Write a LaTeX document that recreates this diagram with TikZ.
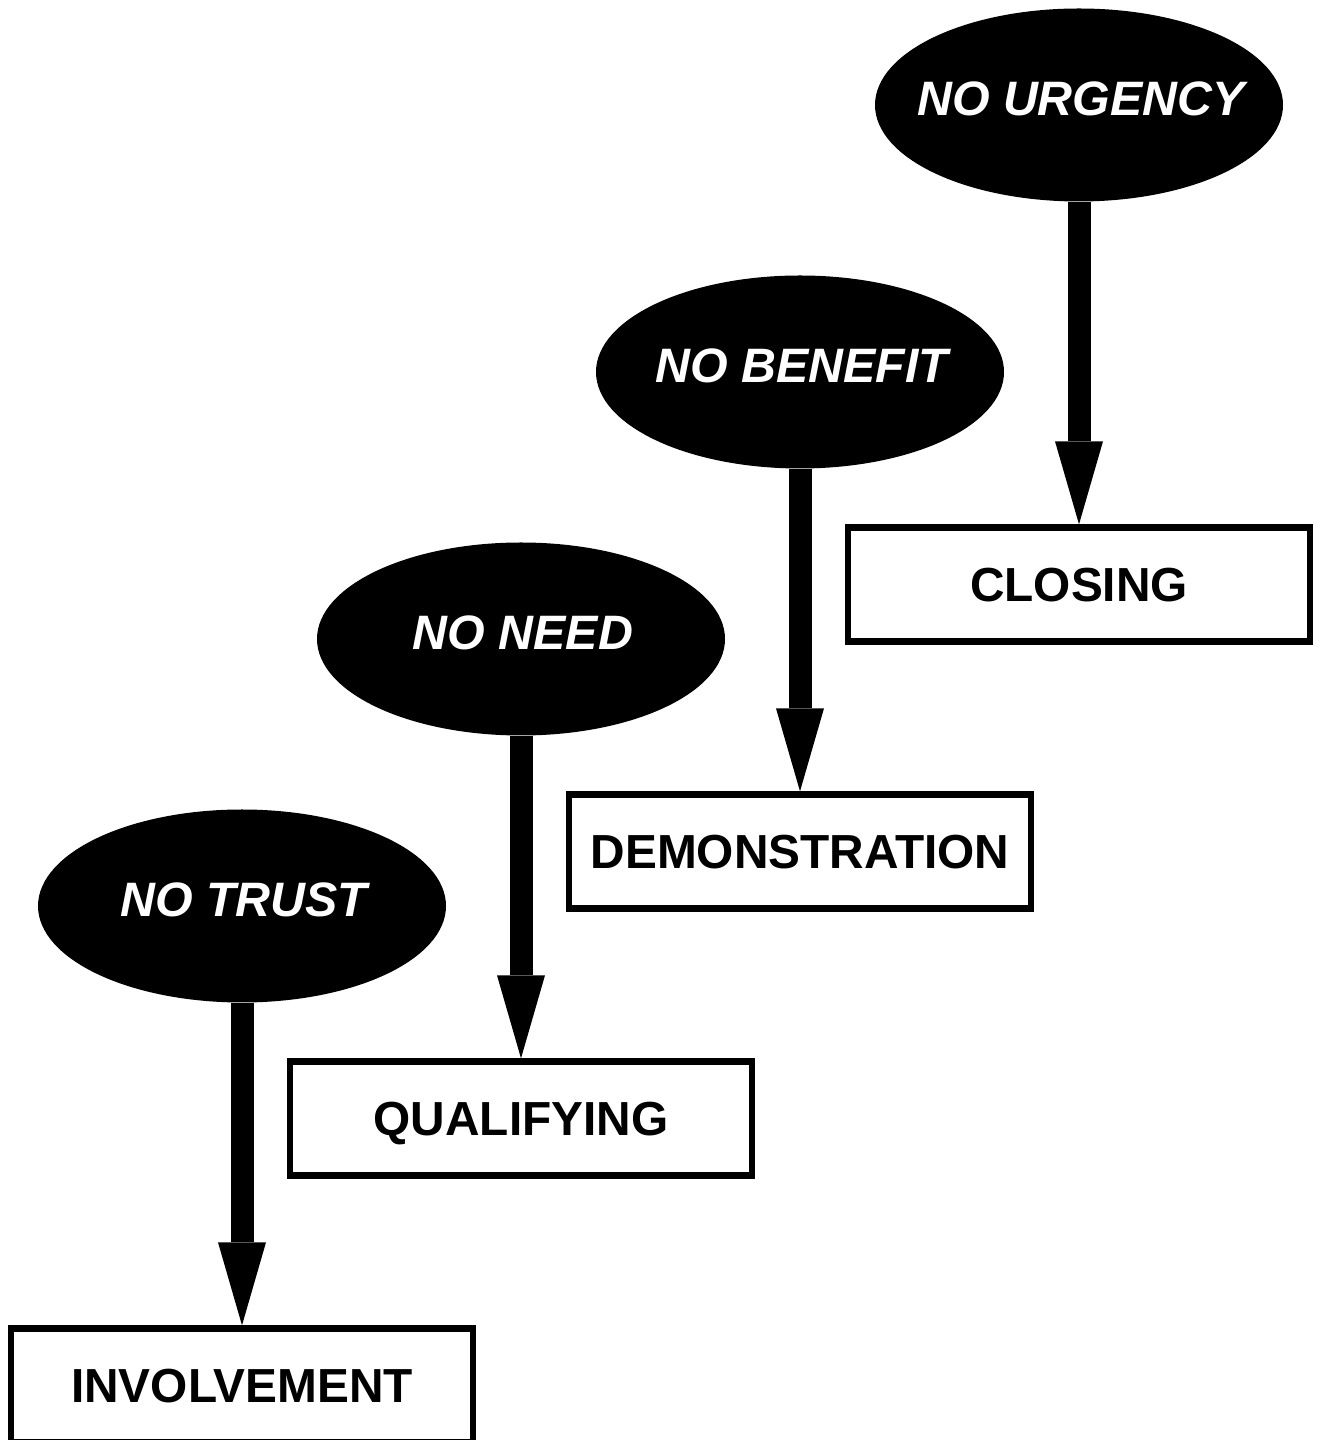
\documentclass[tikz,border=0pt]{standalone}
\usepackage{fontspec}
\setmainfont{Liberation Sans}
\usetikzlibrary{arrows.meta,positioning,shapes.geometric}

\begin{document}
\begin{tikzpicture}[
    obstacle/.style={ellipse,fill=black,minimum width=8.16cm,minimum height=3.86cm,inner sep=0pt},
    obsttext/.style={text=white,inner sep=0pt,text depth=0pt,font=\fontsize{27.5}{32}\selectfont\bfseries\itshape},
    stagebox/.style={draw,line width=0.13cm,minimum width=9.24cm,minimum height=2.28cm,inner sep=0pt,text depth=0pt,font=\fontsize{27.2}{32}\selectfont\bfseries},
    blockarrow/.style={line width=0.46cm,-{Triangle[length=1.66cm,width=0.96cm,line width=0pt]}}
]
\useasboundingbox (0,0) rectangle (26.42,28.8);

% Obstacle over each stage, stepping up to the right
\foreach \i/\obst/\stage in {0/NO TRUST/INVOLVEMENT, 1/NO NEED/QUALIFYING,
                             2/NO BENEFIT/DEMONSTRATION, 3/NO URGENCY/CLOSING}
{
    \node[obstacle] (obst\i) at (4.84+5.58*\i,10.68+5.34*\i) {};
    \node[obsttext] (obstlabel\i) at ([xshift=0.04cm,yshift=0.12cm]obst\i.center) {\obst};
    \node[stagebox,below=6.45cm of obst\i] (stage\i) {\stage};
    % Obstacle leads down into its stage
    \draw[blockarrow] (obst\i) -- (stage\i);
}
\end{tikzpicture}
\end{document}
